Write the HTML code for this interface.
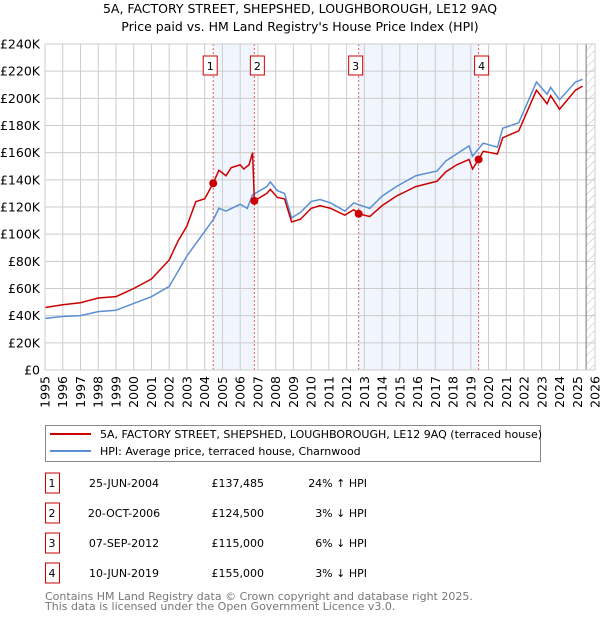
<!DOCTYPE html>
<html><head><meta charset="utf-8"><style>
body{margin:0;background:#fff;font-family:"Liberation Sans","DejaVu Sans",sans-serif;}
#wrap{position:relative;width:600px;height:620px;overflow:hidden}
</style></head><body><div id="wrap">
<svg id="chart" width="600" height="620" xmlns="http://www.w3.org/2000/svg" font-family="DejaVu Sans, Liberation Sans, sans-serif">
<defs><pattern id="hatch" width="6" height="6" patternUnits="userSpaceOnUse" patternTransform="rotate(45)"><line x1="0" y1="0" x2="0" y2="6" stroke="#bbb" stroke-width="1"/></pattern></defs>
<text x="300" y="13" text-anchor="middle" font-size="12.5">5A, FACTORY STREET, SHEPSHED, LOUGHBOROUGH, LE12 9AQ</text>
<text x="300" y="31" text-anchor="middle" font-size="12.5">Price paid vs. HM Land Registry's House Price Index (HPI)</text>
<g id="plot"></g>
<g>
<rect x="45.5" y="425.5" width="495" height="36" fill="#fff" stroke="#888"/>
<line x1="50" y1="434" x2="91" y2="434" stroke="#cc0000" stroke-width="2"/>
<text x="100" y="438" font-size="11">5A, FACTORY STREET, SHEPSHED, LOUGHBOROUGH, LE12 9AQ (terraced house)</text>
<line x1="50" y1="451" x2="91" y2="451" stroke="#5b8fd4" stroke-width="2"/>
<text x="100" y="455" font-size="11">HPI: Average price, terraced house, Charnwood</text>
</g>
<g id="table" font-size="11"></g>
<text x="45" y="600" font-size="11" fill="#777">Contains HM Land Registry data © Crown copyright and database right 2025.</text>
<text x="45" y="610" font-size="11" fill="#777">This data is licensed under the Open Government Licence v3.0.</text>
</svg></div>
<script>
const hpiYears=[1995,1996,1997,1998,1999,2000,2001,2002,2003,2004,2004.5,2004.8,2005.2,2006,2006.4,2006.7,2007.5,2007.7,2008.1,2008.5,2008.9,2009.4,2010,2010.5,2011.1,2011.9,2012.4,2013.3,2014,2014.8,2015.9,2017.1,2017.6,2018.2,2018.9,2019.1,2019.7,2020.5,2020.8,2021.7,2022.7,2023.3,2023.5,2024,2024.9,2025.3];
const hpiValues=[38,39.4,40,43,44,49,54,61.5,84,102,111,119,117,122,119,129,135,138.5,132,130,112,116,124,125.5,123,117,123,119,128,135,143,146.5,154,159,165,157.5,167,164,178,182,212,203,208,199,212,214];
const propYears=[1995,1996,1997,1998,1999,2000,2001,2002,2002.5,2003,2003.5,2004,2004.48,2004.8,2005.2,2005.5,2006,2006.2,2006.5,2006.7,2006.8,2007.5,2007.7,2008.1,2008.5,2008.9,2009.4,2010,2010.5,2011.1,2011.9,2012.4,2012.68,2013.3,2014,2014.8,2015.9,2017.1,2017.6,2018.2,2018.9,2019.1,2019.44,2019.7,2020.5,2020.8,2021.7,2022.7,2023.3,2023.5,2024,2024.9,2025.3];
const propValues=[46,48,49.5,53,54,60,67,81,95,106,124,126,137.5,147,143,149,151,148,151,160,124.5,130,133,127,126,109,111,119,121,119,114,118,115,113,121,128,135,139,146,151,155,148,155,161,159,171,176,206,196,202,192,206,209];
const saleLabels=["1","2","3","4"];
const saleYears=[2004.48,2006.8,2012.68,2019.44];
const saleValues=[137.485,124.5,115,155];
const saleDates=["25-JUN-2004","20-OCT-2006","07-SEP-2012","10-JUN-2019"];
const salePrices=["£137,485","£124,500","£115,000","£155,000"];
const saleDiffs=["24% ↑ HPI","3% ↓ HPI","6% ↓ HPI","3% ↓ HPI"];
const yTicks=[0,20,40,60,80,100,120,140,160,180,200,220,240];
const xTicks=[1995,1996,1997,1998,1999,2000,2001,2002,2003,2004,2005,2006,2007,2008,2009,2010,2011,2012,2013,2014,2015,2016,2017,2018,2019,2020,2021,2022,2023,2024,2025,2026];
const NS="http://www.w3.org/2000/svg";
const X0=45,X1=595,Y0=370,Y1=44;
const xs=y=>X0+(y-1995)/(2026-1995)*(X1-X0);
const ys=v=>Y0-v/240*(Y0-Y1);
const plot=document.getElementById('plot');
function mk(tag,at,parent){const e=document.createElementNS(NS,tag);for(const k in at)e.setAttribute(k,at[k]);(parent||plot).appendChild(e);return e;}
for(let i=0;i<saleYears.length;i+=2){
 const r=mk('rect',{x:xs(saleYears[i]),y:Y1,width:xs(saleYears[i+1])-xs(saleYears[i]),height:Y0-Y1,fill:'#eef3fc',opacity:0.8});
 
 
}
yTicks.forEach(v=>{
 const l=mk('line',{x1:X0,x2:X1,y1:ys(v),y2:ys(v),stroke:'#ccc','stroke-width':1});
 
 
 const t=mk('text',{x:40,y:ys(v)+4.5,'text-anchor':'end','font-size':12.5});
 t.textContent='£'+(v===0?'0':v+'K');
 
 
});
xTicks.forEach(y=>{
 const l=mk('line',{x1:xs(y),x2:xs(y),y1:Y1,y2:Y0,stroke:'#ccc','stroke-width':1});
 
 
 const tx=xs(y)+4.5;
 const t=mk('text',{x:tx,y:376,'text-anchor':'end','font-size':12.5,transform:'rotate(-90 '+tx+' 376)'});
 t.textContent=y;
 
 
});
const hx=xs(2025.5);
const h=mk('rect',{x:hx,y:Y1,width:X1-hx,height:Y0-Y1,fill:'url(#hatch)'});


const hl=mk('line',{x1:hx,x2:hx,y1:Y1,y2:Y0,stroke:'#777','stroke-width':1});


saleYears.forEach((y,i)=>{
 const l=mk('line',{x1:xs(y),x2:xs(y),y1:Y1,y2:Y0,stroke:'#e06060','stroke-width':1,'stroke-dasharray':'2,2'});
 
 
 const b=mk('rect',{x:xs(y)-7-(i%2?-3:3),y:56,width:14,height:19,fill:'#fff',stroke:'#cc0000'});
 
 
 const t=mk('text',{x:xs(y)-(i%2?-3:3),y:70,'text-anchor':'middle','font-size':11});
 t.textContent=saleLabels[i];
 
 
});
const hp=mk('polyline',{points:hpiYears.map((y,i)=>xs(y)+','+ys(hpiValues[i])).join(' '),fill:'none',stroke:'#5b8fd4','stroke-width':1.5});


const pp=mk('polyline',{points:propYears.map((y,i)=>xs(y)+','+ys(propValues[i])).join(' '),fill:'none',stroke:'#cc0000','stroke-width':1.5});


saleYears.forEach((y,i)=>{
 const c=mk('circle',{cx:xs(y),cy:ys(saleValues[i]),r:4,fill:'#cc0000'});
 
 
});
const ax=mk('rect',{x:X0,y:Y1,width:X1-X0,height:Y0-Y1,fill:'none',stroke:'#ccc'});


const tb=document.getElementById('table');
saleLabels.forEach((s,i)=>{
 const cy=483+i*30;
 const b=mk('rect',{x:45.5,y:cy-10,width:14,height:20,fill:'#fff',stroke:'#cc0000'},tb);
 
 
 const cells=[[52,'middle',s,'table-row-number'],[124,'middle',saleDates[i],'table-sale-date'],[264,'end',salePrices[i],'table-sale-price'],[367,'end',saleDiffs[i],'table-hpi-diff']];
 cells.forEach(c=>{
  const t=mk('text',{x:c[0],y:cy+4,'text-anchor':c[1]},tb);
  t.textContent=c[2];
  
  
 });
});
</script></body></html>
